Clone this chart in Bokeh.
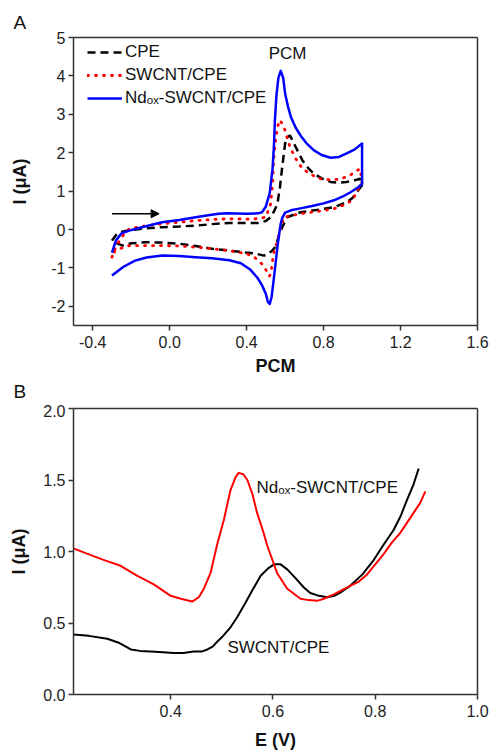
from bokeh.plotting import figure
from bokeh.layouts import column
from bokeh.models import (Label, Arrow, NormalHead, Legend, LegendItem, Range1d, Title,
                          SingleIntervalTicker, FixedTicker, PrintfTickFormatter, LinearAxis)
from bokeh.embed import file_html
from bokeh.resources import INLINE

FONT = "Liberation Sans"

# ---------------- Panel A : cyclic voltammograms ----------------
cpe_x = [-0.30, -0.28, -0.26, -0.21, -0.12, -0.04, 0.05, 0.135, 0.22, 0.31, 0.40, 0.46, 0.50, 0.525,
         0.545, 0.56, 0.573, 0.585, 0.60, 0.612, 0.625, 0.64, 0.655, 0.69, 0.72, 0.75, 0.79, 0.836,
         0.88, 0.92, 0.96, 0.99, 1.00,
         0.98, 0.95, 0.92, 0.854, 0.78, 0.68, 0.61, 0.585, 0.57, 0.56, 0.545, 0.533, 0.51, 0.49,
         0.44, 0.395, 0.31, 0.22, 0.135, 0.05, -0.04, -0.125, -0.20, -0.245, -0.28, -0.30]
cpe_y = [-0.29, -0.15, -0.07, -0.02, 0.03, 0.06, 0.08, 0.10, 0.14, 0.17, 0.17, 0.17, 0.22, 0.32,
         0.50, 0.67, 1.10, 1.63, 2.24, 2.40, 2.45, 2.30, 2.15, 1.80, 1.60, 1.45, 1.33, 1.24,
         1.22, 1.24, 1.28, 1.32, 1.15,
         1.02, 0.82, 0.71, 0.58, 0.52, 0.45, 0.32, 0.06, -0.12, -0.29, -0.48, -0.55, -0.64, -0.68,
         -0.62, -0.60, -0.55, -0.50, -0.43, -0.37, -0.34, -0.33, -0.36, -0.42, -0.35, -0.29]

swcnt_x = [-0.30, -0.28, -0.25, -0.21, -0.12, -0.04, 0.05, 0.135, 0.22, 0.31, 0.40, 0.45, 0.50, 0.525,
           0.535, 0.54, 0.55, 0.56, 0.573, 0.585, 0.594, 0.61, 0.625, 0.655, 0.69, 0.74, 0.785, 0.84,
           0.89, 0.94, 0.975, 0.99, 1.00,
           0.98, 0.95, 0.90, 0.854, 0.78, 0.68, 0.62, 0.594, 0.577, 0.56, 0.54, 0.525, 0.518, 0.50,
           0.48, 0.44, 0.40, 0.31, 0.22, 0.135, 0.05, -0.04, -0.12, -0.21, -0.26, -0.30]
swcnt_y = [-0.72, -0.45, -0.20, 0.02, 0.10, 0.15, 0.19, 0.23, 0.26, 0.28, 0.27, 0.28, 0.32, 0.67,
           1.20, 1.80, 2.30, 2.67, 2.85, 2.75, 2.67, 2.40, 2.15, 1.85, 1.58, 1.42, 1.32, 1.29,
           1.32, 1.42, 1.54, 1.58, 1.20,
           1.06, 0.76, 0.63, 0.54, 0.48, 0.41, 0.35, 0.32, 0.06, -0.29, -0.63, -1.16, -1.22, -1.05,
           -0.90, -0.72, -0.63, -0.55, -0.50, -0.46, -0.43, -0.42, -0.42, -0.42, -0.50, -0.62]

nd_x = [-0.30, -0.28, -0.25, -0.21, -0.15, -0.04, 0.05, 0.135, 0.20, 0.255, 0.30, 0.40, 0.46, 0.48,
        0.50, 0.52, 0.535, 0.542, 0.547, 0.555, 0.565, 0.577, 0.59, 0.60, 0.615, 0.63, 0.655, 0.68,
        0.71, 0.75, 0.79, 0.836, 0.88, 0.92, 0.96, 1.00, 1.00,
        0.98, 0.94, 0.90, 0.854, 0.80, 0.74, 0.68, 0.63, 0.60, 0.585, 0.577, 0.568, 0.56, 0.55,
        0.54, 0.53, 0.52, 0.51, 0.50, 0.48, 0.455, 0.42, 0.37, 0.31, 0.22, 0.135, 0.05, -0.04,
        -0.12, -0.18, -0.24, -0.30]
nd_y = [-0.60, -0.29, -0.10, -0.03, 0.05, 0.19, 0.25, 0.32, 0.37, 0.41, 0.42, 0.41, 0.42, 0.45,
        0.60, 0.95, 1.60, 2.20, 2.85, 3.50, 3.95, 4.13, 3.95, 3.54, 3.20, 2.93, 2.65, 2.45,
        2.25, 2.06, 1.94, 1.87, 1.89, 1.98, 2.08, 2.24, 1.19,
        1.10, 0.97, 0.86, 0.76, 0.68, 0.61, 0.55, 0.50, 0.44, 0.30, 0.15, -0.15, -0.46, -0.90,
        -1.33, -1.75, -1.94, -1.88, -1.68, -1.45, -1.25, -1.05, -0.88, -0.80, -0.75, -0.72, -0.69, -0.68,
        -0.73, -0.81, -0.97, -1.20]

legend_labels = ["CPE", "SWCNT/CPE", "Nd\u2092\u2093-SWCNT/CPE"]
arrow_x = [-0.30, -0.055]
arrow_y = 0.41
peak_label = "PCM"
peak_label_pos = (0.613, 4.33)
xlabel_a = "PCM"
ylabel = "I (\u03bcA)"

# ---------------- Panel B : DPV ----------------
dpv_swcnt_x = [0.21, 0.24, 0.276, 0.30, 0.322, 0.34, 0.361, 0.385, 0.406, 0.425, 0.445, 0.46, 0.472,
               0.482, 0.49, 0.50, 0.517, 0.53, 0.546, 0.56, 0.576, 0.59, 0.602, 0.615, 0.628, 0.645,
               0.66, 0.673, 0.69, 0.706, 0.72, 0.735, 0.751, 0.775, 0.797, 0.815, 0.836, 0.85,
               0.862, 0.875, 0.885]
dpv_swcnt_y = [0.42, 0.41, 0.39, 0.36, 0.315, 0.305, 0.30, 0.295, 0.29, 0.29, 0.30, 0.30, 0.315,
               0.335, 0.365, 0.40, 0.47, 0.54, 0.64, 0.73, 0.83, 0.88, 0.91, 0.91, 0.875, 0.81,
               0.75, 0.71, 0.69, 0.68, 0.69, 0.72, 0.76, 0.84, 0.94, 1.04, 1.15, 1.25,
               1.36, 1.47, 1.58]

dpv_nd_x = [0.211, 0.24, 0.27, 0.302, 0.335, 0.367, 0.40, 0.42, 0.442, 0.455, 0.465, 0.478, 0.491,
            0.504, 0.517, 0.527, 0.533, 0.542, 0.55, 0.56, 0.569, 0.58, 0.589, 0.60, 0.608, 0.628,
            0.654, 0.67, 0.686, 0.70, 0.719, 0.735, 0.751, 0.768, 0.784, 0.80, 0.816, 0.832,
            0.849, 0.862, 0.875, 0.888, 0.898]
dpv_nd_y = [1.02, 0.98, 0.94, 0.90, 0.83, 0.77, 0.69, 0.67, 0.65, 0.68, 0.74, 0.85, 1.05,
            1.22, 1.43, 1.52, 1.55, 1.54, 1.50, 1.40, 1.27, 1.15, 1.04, 0.93, 0.85, 0.74,
            0.67, 0.66, 0.655, 0.67, 0.70, 0.73, 0.76, 0.79, 0.84, 0.91, 0.98, 1.06,
            1.13, 1.20, 1.27, 1.34, 1.42]

dpv_labels = ["Nd\u2092\u2093-SWCNT/CPE", "SWCNT/CPE"]
dpv_label_pos = [(0.568, 1.38), (0.511, 0.264)]
xlabel_b = "E (V)"

AX = "#333333"
TXT = "#111111"


def panel_title(letter, standoff):
    return Title(text=letter, align="left", offset=-60, standoff=standoff,
                 text_font=FONT, text_font_size="19px", text_font_style="normal",
                 text_color=TXT)


def style(p, xint, yint, xfmt, yfmt, xlabel, xl_standoff, yl_standoff):
    for ax in (p.xaxis[0], p.yaxis[0]):
        ax.axis_line_color = AX
        ax.axis_line_width = 1.5
        ax.major_tick_line_color = AX
        ax.major_tick_line_width = 1.5
        ax.major_tick_in = 0
        ax.major_tick_out = 5
        ax.minor_tick_line_color = None
        ax.major_label_text_font = FONT
        ax.major_label_text_font_size = "16px"
        ax.major_label_text_color = "#222222"
        ax.axis_label_text_font = FONT
        ax.axis_label_text_font_size = "18px"
        ax.axis_label_text_font_style = "bold"
        ax.axis_label_text_color = TXT
    p.xaxis[0].major_label_standoff = 5
    p.yaxis[0].major_label_standoff = 3
    p.xaxis[0].ticker = SingleIntervalTicker(interval=xint, num_minor_ticks=0)
    p.yaxis[0].ticker = SingleIntervalTicker(interval=yint, num_minor_ticks=0)
    p.xaxis[0].formatter = PrintfTickFormatter(format=xfmt)
    p.yaxis[0].formatter = PrintfTickFormatter(format=yfmt)
    p.xaxis[0].axis_label = xlabel
    p.yaxis[0].axis_label = ylabel
    p.xaxis[0].axis_label_standoff = xl_standoff
    p.yaxis[0].axis_label_standoff = yl_standoff
    p.xgrid.visible = False
    p.ygrid.visible = False
    p.outline_line_color = None
    # closing box: plain axes on top and right
    for loc in ("above", "right"):
        ax = LinearAxis(ticker=FixedTicker(ticks=[]), axis_line_color=AX, axis_line_width=1.5,
                        major_tick_line_color=None, minor_tick_line_color=None,
                        major_label_text_font_size="0px", major_label_standoff=0)
        p.add_layout(ax, loc)


# ---------------- figure A ----------------
pa = figure(width=490, height=404, x_range=Range1d(-0.5, 1.6), y_range=Range1d(-2.5, 5),
            output_backend="svg", toolbar_location=None, title=None,
            min_border_left=73, min_border_right=13, min_border_top=37, min_border_bottom=79)
style(pa, 0.4, 1, "%.1f", "%d", xlabel_a, 5, 18)
pa.add_layout(panel_title("A", 10), "above")
pa.add_layout(panel_title("B", 0), "below")

r_cpe = pa.line(cpe_x, cpe_y, line_color="black", line_width=2.5, line_dash="8 5")
r_sw = pa.line(swcnt_x, swcnt_y, line_color="red", line_width=2.8, line_dash="1 7",
               line_cap="round")
r_nd = pa.line(nd_x, nd_y, line_color="blue", line_width=2.5, line_join="round")

legend = Legend(items=[LegendItem(label=legend_labels[0], renderers=[r_cpe]),
                       LegendItem(label=legend_labels[1], renderers=[r_sw]),
                       LegendItem(label=legend_labels[2], renderers=[r_nd])],
                location=(14, 217), margin=0, padding=0, spacing=3,
                glyph_width=35, glyph_height=20, label_height=20, label_standoff=3,
                label_text_font=FONT, label_text_font_size="17px", label_text_color=TXT,
                background_fill_alpha=0, border_line_color=None)
pa.add_layout(legend)

pa.add_layout(Arrow(end=NormalHead(size=8, fill_color="black", line_color="black"),
                    x_start=arrow_x[0], y_start=arrow_y, x_end=arrow_x[1], y_end=arrow_y,
                    line_color="black", line_width=1.5))
pa.add_layout(Label(x=peak_label_pos[0], y=peak_label_pos[1], text=peak_label,
                    text_align="center", text_font=FONT, text_font_size="17px",
                    text_color=TXT))

# ---------------- figure B ----------------
pb = figure(width=490, height=348, x_range=Range1d(0.21, 1.0), y_range=Range1d(0, 2),
            output_backend="svg", toolbar_location=None, title=None,
            min_border_left=73, min_border_right=13, min_border_top=4, min_border_bottom=56)
style(pb, 0.2, 0.5, "%.1f", "%.1f", xlabel_b, 10, 11)
pb.line(dpv_swcnt_x, dpv_swcnt_y, line_color="black", line_width=2, line_join="round")
pb.line(dpv_nd_x, dpv_nd_y, line_color="red", line_width=2, line_join="round")
for txt, (lx, ly) in zip(dpv_labels, dpv_label_pos):
    pb.add_layout(Label(x=lx, y=ly, text=txt, text_font=FONT, text_font_size="17px",
                        text_color=TXT))

layout = column(pa, pb, spacing=0)
open("out.html", "w").write(file_html(layout, INLINE))
